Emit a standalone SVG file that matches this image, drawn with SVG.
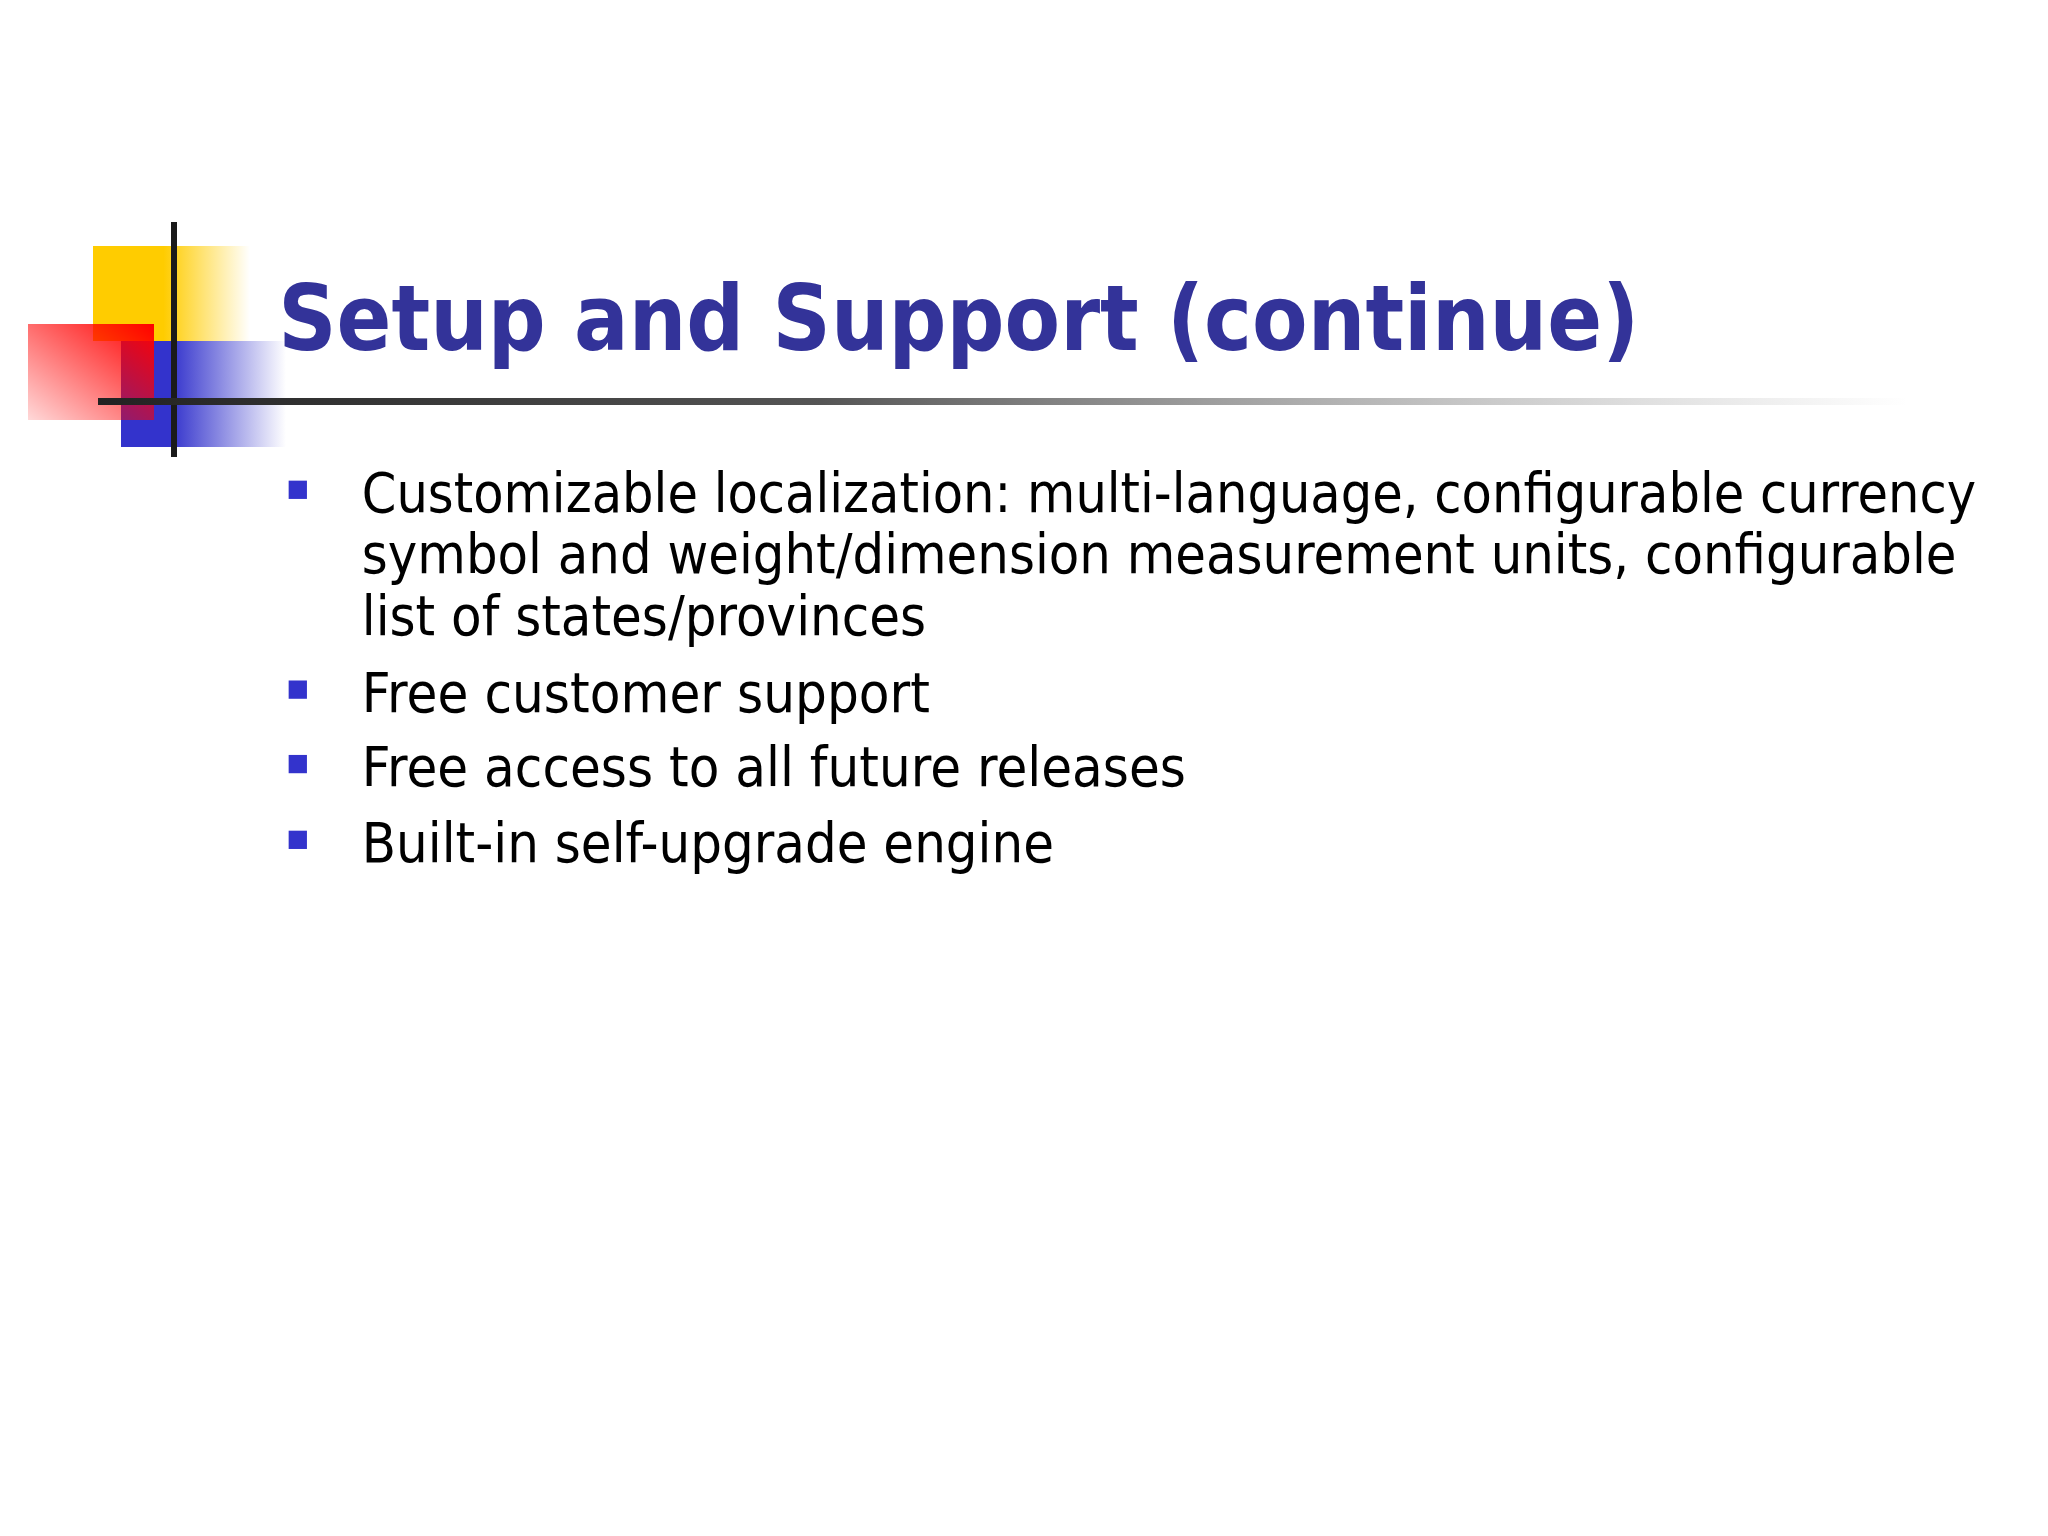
<svg xmlns="http://www.w3.org/2000/svg" width="2048" height="1536" viewBox="0 0 2048 1536">
<defs>
<linearGradient id="gy" x1="0" x2="1"><stop offset="0.45" stop-color="#ffcc00"/><stop offset="1" stop-color="#ffcc00" stop-opacity="0"/></linearGradient>
<linearGradient id="gr" x1="1" y1="0" x2="0" y2="1"><stop offset="0" stop-color="#ff0000"/><stop offset="1" stop-color="#ff0000" stop-opacity="0.15"/></linearGradient>
<linearGradient id="gb" x1="0" x2="1"><stop offset="0.3" stop-color="#3333cc"/><stop offset="1" stop-color="#3333cc" stop-opacity="0"/></linearGradient>
<linearGradient id="gl" x1="0" x2="1"><stop offset="0" stop-color="#222"/><stop offset="0.4" stop-color="#555"/><stop offset="1" stop-color="#888" stop-opacity="0"/></linearGradient>
<style>
.t{font-family:"DejaVu Sans",Verdana,sans-serif;font-weight:bold;font-size:70px;fill:#333399}
.b{font-family:"DejaVu Sans",Verdana,sans-serif;font-size:42px;fill:#000}
.s{fill:#3333cc}
</style>
</defs>
<rect width="2048" height="1536" fill="#fff"/>
<g id="logo">
<rect x="93" y="246" width="157" height="95" fill="url(#gy)"/>
<rect x="121" y="341" width="165" height="106" fill="url(#gb)"/>
<rect x="28" y="324" width="126" height="96" fill="url(#gr)"/>
<rect x="171" y="222" width="6" height="235" fill="#1a1a1a"/>
<rect x="98" y="398" width="1810" height="7" fill="url(#gl)"/>
</g>
<g transform="scale(1.30612)">
<g id="title"><text class="t" x="213" y="268" textLength="1042" lengthAdjust="spacingAndGlyphs">Setup and Support (continue)</text></g>
<g id="bullets">
<rect class="s" x="221" y="368" width="14" height="14"/>
<rect class="s" x="221" y="521" width="14" height="14"/>
<rect class="s" x="221" y="578" width="14" height="14"/>
<rect class="s" x="221" y="636" width="14" height="14"/>
<text class="b" x="277" y="392" textLength="1236" lengthAdjust="spacingAndGlyphs">Customizable localization: multi-language, configurable currency</text>
<text class="b" x="277" y="439" textLength="1221" lengthAdjust="spacingAndGlyphs">symbol and weight/dimension measurement units, configurable</text>
<text class="b" x="277" y="486" textLength="432" lengthAdjust="spacingAndGlyphs">list of states/provinces</text>
<text class="b" x="277" y="545" textLength="435" lengthAdjust="spacingAndGlyphs">Free customer support</text>
<text class="b" x="277" y="602" textLength="631" lengthAdjust="spacingAndGlyphs">Free access to all future releases</text>
<text class="b" x="277" y="660" textLength="530" lengthAdjust="spacingAndGlyphs">Built-in self-upgrade engine</text>
</g>
</g>
</svg>
